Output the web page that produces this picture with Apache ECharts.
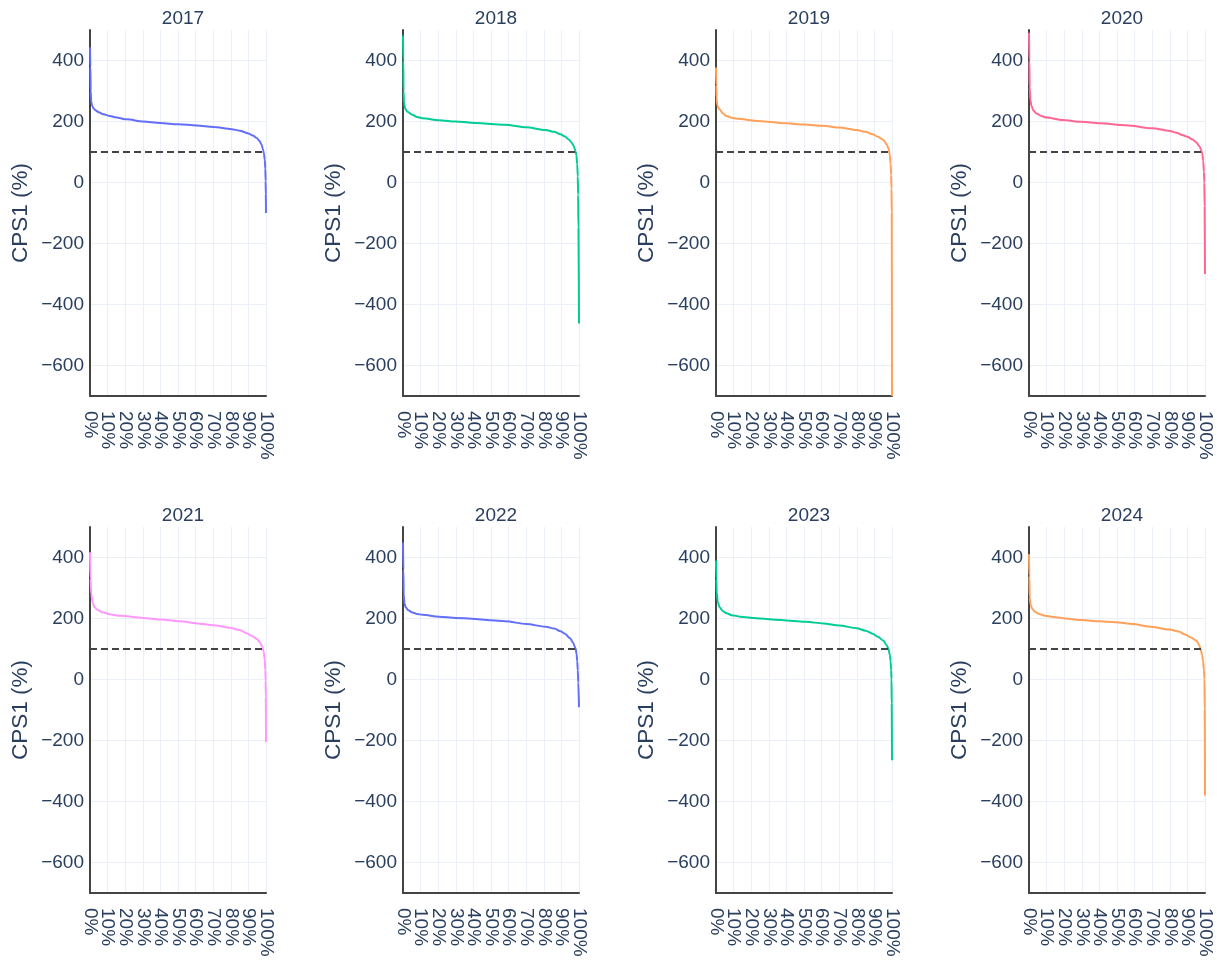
<!DOCTYPE html>
<html>
<head>
<meta charset="utf-8">
<script src="https://cdn.jsdelivr.net/npm/echarts@6/dist/echarts.min.js"></script>
<style>
html,body{margin:0;padding:0;background:#fff;}
#chart{width:1217px;height:960px;}
</style>
</head>
<body>
<div id="chart"></div>
<script>
// ---- data ----
const years = ['2017', '2018', '2019', '2020', '2021', '2022', '2023', '2024'];
const lineColors = ['#636efa', '#00cc96', '#FFA15A', '#FF6692', '#FF97FF', '#636efa', '#00cc96', '#FFA15A'];
const yTicks = [-600, -400, -200, 0, 200, 400];
const xTickLabels = ['0%', '10%', '20%', '30%', '40%', '50%', '60%', '70%', '80%', '90%', '100%'];
const thresholdValue = 100;

const pct2017 = [0, 0.2, 0.4, 0.7, 1.2, 2, 3, 5, 7.6, 11.4, 15, 20.8, 30.3, 39.8, 50.2, 60.6, 70.1, 80.5, 85, 90, 92.5, 94.7, 96.3, 97.5, 98.3, 98.8, 99.3, 99.6, 99.8, 99.9, 100];
const cps2017 = [443, 380, 300, 265, 252, 243, 237, 230, 224, 218, 213, 207, 200, 195, 191, 187, 182, 175, 170, 161, 154, 146, 136, 124, 108, 95, 75, 45, 5, -40, -100];

const pct2018 = [0, 0.15, 0.3, 0.6, 1.2, 2.5, 5.3, 8, 11, 20.5, 30, 39, 50, 58, 70, 81, 86, 89.5, 92, 94, 95.5, 97, 98, 98.5, 99, 99.3, 99.5, 99.7, 100];
const cps2018 = [482, 400, 300, 260, 243, 232, 222, 215, 211, 204, 200, 196, 192, 189, 181, 172, 166, 158, 151, 142, 133, 120, 103, 90, 60, 20, -40, -150, -462];

const pct2019 = [0, 0.15, 0.3, 0.7, 1.3, 2, 4, 6, 9, 12, 23, 40, 50, 61, 70, 80, 85, 89, 92, 95, 97, 98, 98.7, 99.2, 99.5, 99.7, 99.85, 100];
const cps2019 = [377, 320, 278, 255, 245, 240, 226, 218, 212, 209, 202, 194, 190, 186, 180, 172, 166, 158, 150, 140, 125, 112, 93, 60, 25, -20, -100, -700];

const pct2020 = [0, 0.2, 0.4, 0.8, 1.4, 2.5, 4.2, 7, 10, 19, 30, 40, 55, 70, 80, 84, 87, 90, 93, 95, 97, 98, 98.5, 99, 99.4, 99.6, 99.8, 100];
const cps2020 = [491, 400, 311, 270, 251, 236, 226, 218, 213, 205, 199, 194, 188, 178, 169, 163, 156, 150, 141, 132, 117, 103, 93, 70, 35, 0, -80, -300];

const pct2021 = [0, 0.3, 0.7, 1.5, 2.6, 4.5, 7.4, 12, 17, 30, 40, 51, 61, 70, 80, 85, 89, 92, 95, 96.5, 98, 98.7, 99.3, 99.6, 99.8, 99.9, 100];
const cps2021 = [417, 330, 280, 252, 237, 227, 220, 213, 209, 202, 197, 191, 184, 178, 169, 162, 152, 143, 132, 122, 106, 90, 65, 30, -3, -60, -205];

const pct2022 = [0, 0.2, 0.4, 0.8, 1.5, 3, 5.3, 8, 11, 20.5, 30, 39, 50, 58, 70, 81, 86, 89.5, 92, 95, 96.5, 98, 98.6, 99, 99.3, 99.6, 100];
const cps2022 = [449, 360, 280, 250, 237, 227, 220, 215, 212, 206, 202, 199, 194, 191, 182, 173, 167, 158, 150, 135, 122, 103, 85, 60, 30, -10, -91];

const pct2023 = [0, 0.2, 0.4, 1, 2, 4, 6, 9, 13.6, 23, 32, 42, 51, 61, 70, 80, 85, 89, 92, 95, 97, 98, 98.8, 99.2, 99.5, 99.7, 99.85, 100];
const cps2023 = [390, 330, 285, 255, 237, 224, 217, 211, 206, 201, 197, 193, 189, 184, 177, 168, 160, 150, 140, 128, 112, 100, 80, 60, 30, 0, -80, -265];

const pct2024 = [0, 0.2, 0.4, 0.9, 1.9, 3.5, 5.7, 9, 15, 22, 30, 40, 49, 59, 68, 80, 85, 89, 92, 95, 96.5, 97.5, 98.3, 98.9, 99.4, 99.7, 99.85, 100];
const cps2024 = [411, 340, 270, 245, 231, 221, 215, 209, 204, 199, 195, 191, 188, 182, 174, 164, 157, 147, 138, 128, 115, 100, 82, 62, 30, 0, -100, -380];

const pctByYear = [pct2017, pct2018, pct2019, pct2020, pct2021, pct2022, pct2023, pct2024];
const cpsByYear = [cps2017, cps2018, cps2019, cps2020, cps2021, cps2022, cps2023, cps2024];

// ---- layout ----
const FONT = '"Liberation Sans", Arial, Helvetica, sans-serif';
const TXT = '#2a3f5f';
const plotLefts = [90, 403, 716, 1029];
const plotTops = [30, 527];
const plotW = 176, plotH = 366;

const grids = [], xAxes = [], yAxes = [], series = [], titles = [];
years.forEach((yr, i) => {
  const col = i % 4, row = Math.floor(i / 4);
  const left = plotLefts[col], top = plotTops[row];
  grids.push({ left: left, top: top, width: plotW, height: plotH, containLabel: false, outerBoundsMode: 'none' });
  titles.push({
    text: yr, left: left + plotW / 2, top: top - 26, textAlign: 'center',
    textStyle: { fontFamily: FONT, fontSize: 19, fontWeight: 'normal', color: TXT }
  });
  // value axis that carries the data and the vertical grid lines
  xAxes.push({
    type: 'value', gridIndex: i, min: 0, max: 100, interval: 10,
    axisLine: { show: true, onZero: false, lineStyle: { color: '#444', width: 2 } },
    axisTick: { show: false },
    axisLabel: { show: false },
    splitLine: { show: true, lineStyle: { color: '#ebf0f8', width: 1 } }
  });
  // companion category axis only for the percentage tick labels (all shown)
  xAxes.push({
    type: 'category', gridIndex: i, data: xTickLabels, boundaryGap: false, position: 'bottom',
    axisLine: { show: false }, axisTick: { show: false }, splitLine: { show: false },
    axisLabel: {
      interval: 0, rotate: -90, margin: 15, showMinLabel: true, showMaxLabel: true,
      hideOverlap: false, fontFamily: FONT, fontSize: 19, color: TXT
    }
  });
  yAxes.push({
    type: 'value', gridIndex: i, min: -700, max: 500,
    name: 'CPS1 (%)', nameLocation: 'middle', nameGap: 58,
    nameTextStyle: { fontFamily: FONT, fontSize: 22.5, color: TXT },
    axisLine: { show: true, onZero: false, lineStyle: { color: '#444', width: 2 } },
    axisTick: { show: false, customValues: yTicks },
    axisLabel: {
      customValues: yTicks, margin: 6, fontFamily: FONT, fontSize: 19, color: TXT,
      formatter: v => (v < 0 ? '\u2212' + Math.abs(v) : String(v))
    },
    splitLine: { show: true, lineStyle: { color: '#ebf0f8', width: 1 } }
  });
  const pct = pctByYear[i], cps = cpsByYear[i];
  series.push({
    type: 'line', xAxisIndex: 2 * i, yAxisIndex: i, name: yr,
    data: pct.map((p, k) => [p, cps[k]]),
    showSymbol: false, symbol: 'none', smooth: 0.3, smoothMonotone: 'x',
    lineStyle: { color: lineColors[i], width: 2 }, itemStyle: { color: lineColors[i] },
    z: 2, animation: false
  });
  series.push({
    type: 'line', xAxisIndex: 2 * i, yAxisIndex: i, name: 'threshold',
    data: [[0, thresholdValue], [100, thresholdValue]],
    showSymbol: false, symbol: 'none',
    lineStyle: { color: '#444', width: 1.8, type: [7, 4], opacity: 1 },
    z: 3, animation: false
  });
});

const chart = echarts.init(document.getElementById('chart'), null, { renderer: 'canvas' });
chart.setOption({
  animation: false,
  backgroundColor: '#fff',
  title: titles,
  grid: grids,
  xAxis: xAxes,
  yAxis: yAxes,
  series: series
});
</script>
</body>
</html>
